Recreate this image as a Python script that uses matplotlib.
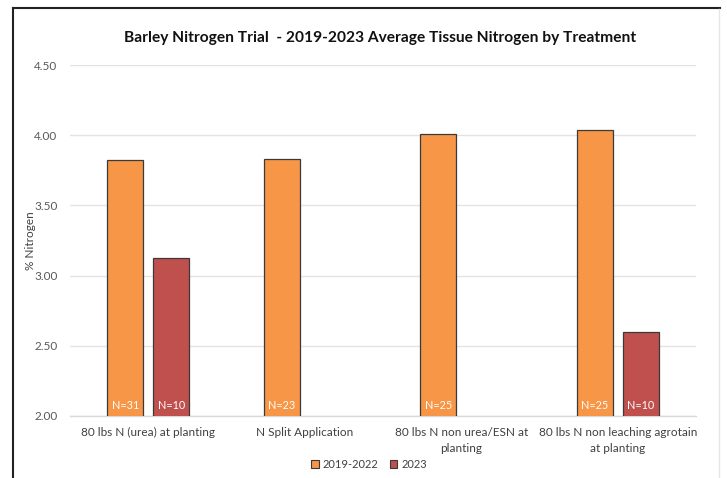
import numpy as np
import matplotlib
matplotlib.use("Agg")
import matplotlib.pyplot as plt
from matplotlib.lines import Line2D
from matplotlib.patches import Patch

plt.rcParams['font.family'] = ['Lato', 'DejaVu Sans']

categories = ["80 lbs N (urea) at planting", "N Split Application",
              "80 lbs N non urea/ESN at\nplanting", "80 lbs N non leaching agrotain\nat planting"]
series_names = ["2019-2022", "2023"]
vals_2019_2022 = [3.82, 3.834, 4.012, 4.037]
vals_2023 = [3.125, np.nan, np.nan, 2.598]
n_2019_2022 = ["N=31", "N=23", "N=25", "N=25"]
n_2023 = ["N=10", "", "", "N=10"]
yticks = [2.00, 2.50, 3.00, 3.50, 4.00, 4.50]

c_orange = "#F79646"
c_red = "#C0504D"
edge = "#3a3a3a"
tick_col = "#595959"

fig = plt.figure(figsize=(7.27, 4.78), dpi=100)
W, H = 727, 478
ax = fig.add_axes([70 / W, 1 - 416 / H, 626 / W, (416 - 65) / H])

x = np.arange(len(categories))
bw = 0.23
off = 0.147
ax.bar(x - off, vals_2019_2022, bw, color=c_orange, edgecolor=edge, linewidth=0.9, zorder=3)
ax.bar(x + off, vals_2023, bw, color=c_red, edgecolor=edge, linewidth=0.9, zorder=3)

for xi, lab in zip(x - off, n_2019_2022):
    if lab:
        ax.text(xi, 2.035, lab, ha="center", va="bottom", color="white", fontsize=7.8, zorder=4)
for xi, lab in zip(x + off, n_2023):
    if lab:
        ax.text(xi, 2.035, lab, ha="center", va="bottom", color="white", fontsize=7.8, zorder=4)

ax.set_ylim(2.0, 4.5)
ax.set_xlim(-0.5, len(categories) - 0.5)
ax.set_yticks(yticks)
ax.set_yticklabels([f"{t:.2f}" for t in yticks], color=tick_col, fontsize=8.5)
ax.set_xticks(x)
ax.set_xticklabels(categories, fontsize=8.5, color="#404040", linespacing=1.5)
ax.tick_params(axis="both", length=0, pad=8)
ax.tick_params(axis="y", pad=9)
ax.grid(axis="y", color="#e3e3e3", linewidth=1, zorder=0)
for s in ["top", "right", "left"]:
    ax.spines[s].set_visible(False)
ax.spines["bottom"].set_color("#d9d9d9")
ax.spines["bottom"].set_linewidth(1)

ax.set_ylabel("% Nitrogen", fontsize=8.5, color="#404040")
ax.yaxis.set_label_coords((36 - 70) / 626, 0.5)

fig.text(380 / W, 1 - 38 / H, "Barley Nitrogen Trial  - 2019-2023 Average Tissue Nitrogen by Treatment",
         ha="center", va="center", fontsize=11.2, fontweight="bold", color="#111111")

handles = [Patch(facecolor=c_orange, edgecolor=edge, linewidth=0.8),
           Patch(facecolor=c_red, edgecolor=edge, linewidth=0.8)]
fig.legend(handles, series_names, loc="center", bbox_to_anchor=(369 / W, 1 - 464 / H),
           ncol=2, frameon=False, fontsize=8, handlelength=0.7, handleheight=0.7,
           handletextpad=0.35, columnspacing=1.0, labelcolor="#404040")

# outer frame lines
fig.add_artist(Line2D([12.5 / W, 12.5 / W], [0, 1 - 8 / H], color="#222222", linewidth=1.5))
fig.add_artist(Line2D([12.5 / W, 720 / W], [1 - 8 / H, 1 - 8 / H], color="#222222", linewidth=1.5))
fig.add_artist(Line2D([719 / W, 719 / W], [0, 1 - 9 / H], color="#e6e6e6", linewidth=1))

fig.savefig("out.png", dpi=100)
